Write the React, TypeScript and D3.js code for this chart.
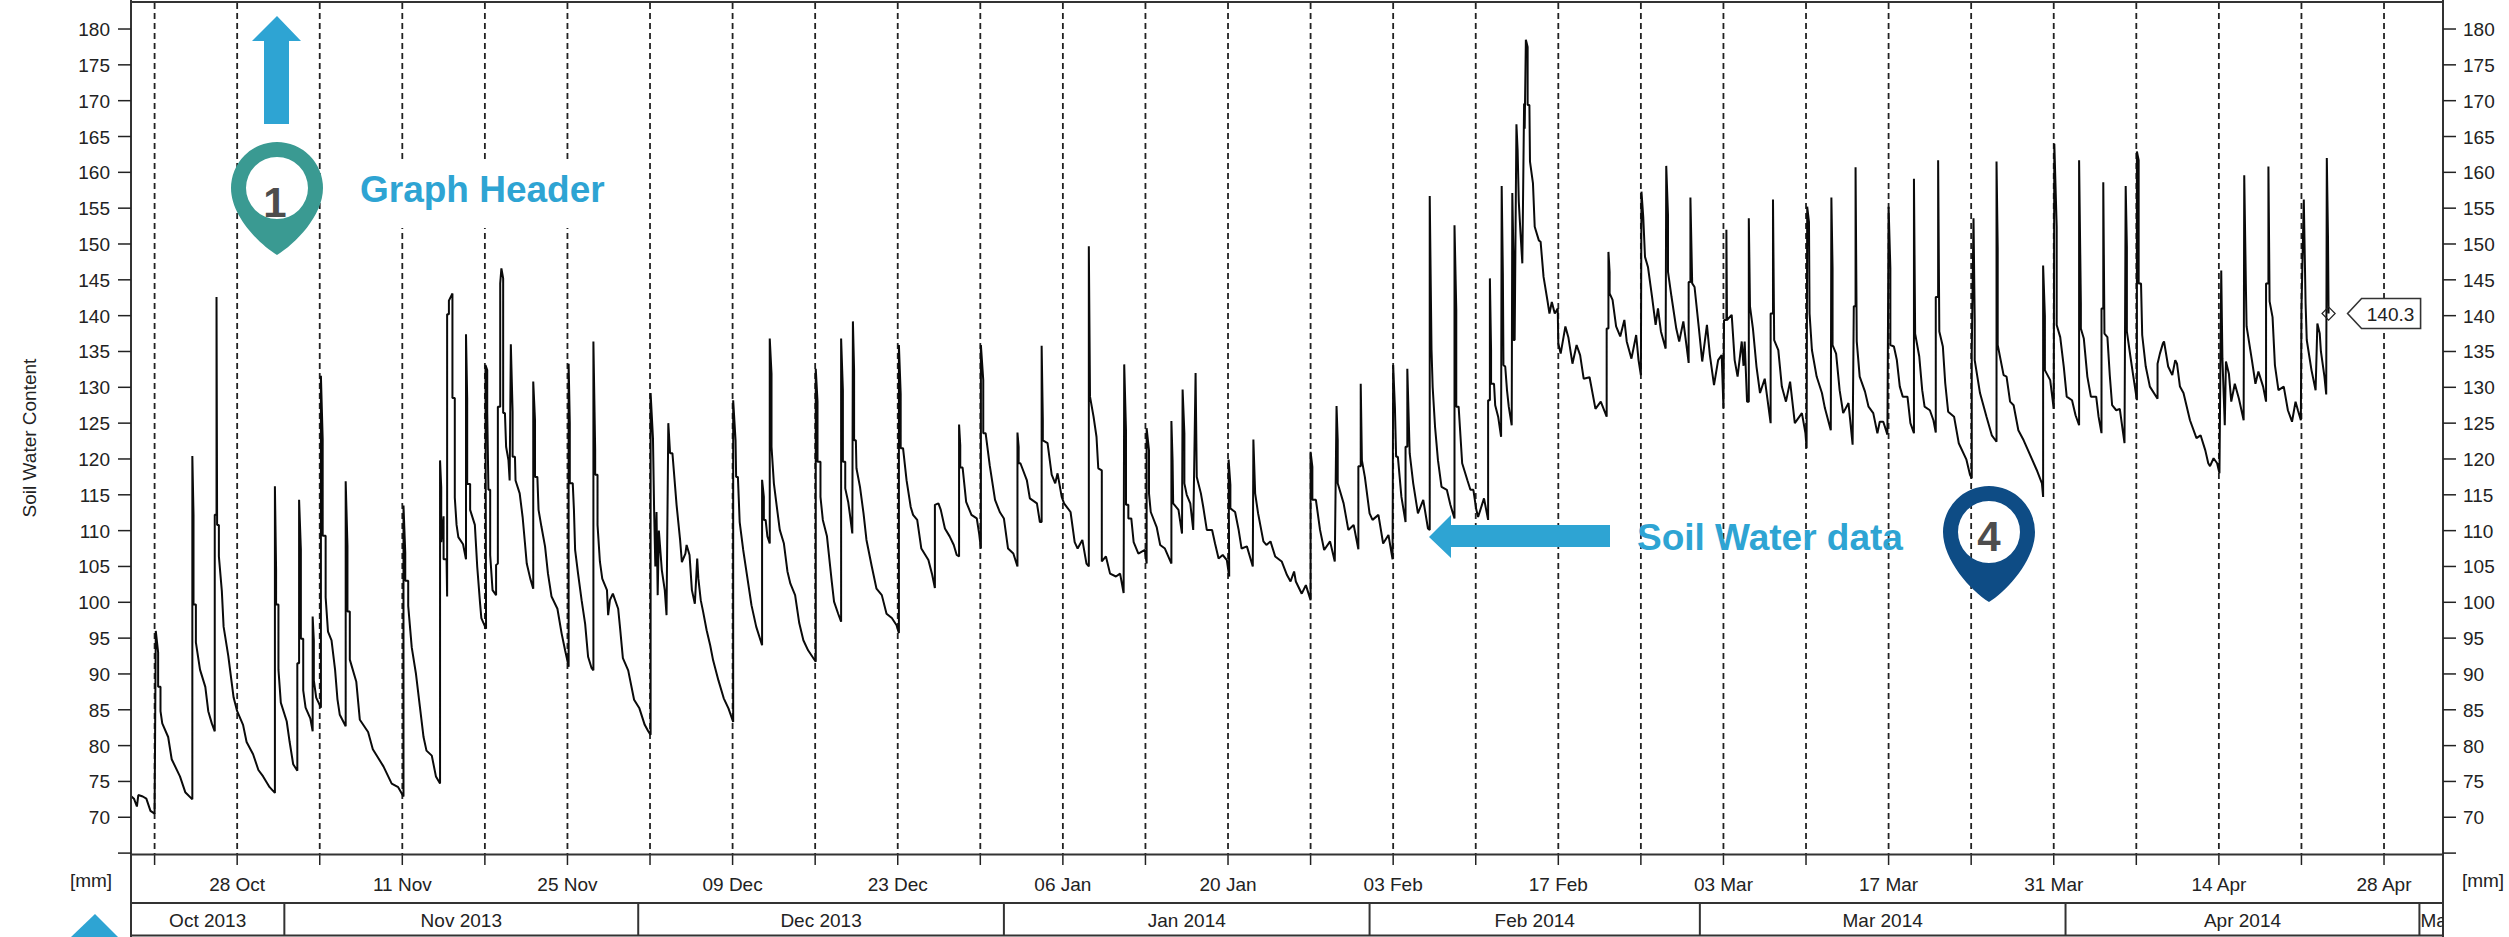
import { useEffect, useRef } from 'react';
import * as d3 from 'd3';

type Reading = [number, number]; // [days since 21 Oct 2013, soil water in mm]

const oct2013: Reading[] = [
  [-2.03, 73], [-1.75, 72.6], [-1.5, 71.5], [-1.38, 73.1], [-1, 72.9], [-0.7, 72.6], [-0.35, 70.9], [0, 70.5],
  [0.1, 96], [0.3, 93], [0.3, 88.2], [0.5, 88.2], [0.5, 84.8], [0.65, 83.1], [1.15, 81.2], [1.45, 78.1], [2.15, 75.7], [2.6, 73.5], [3.2, 72.5],
  [3.2, 120.4], [3.3, 112.2], [3.3, 99.7], [3.5, 99.7], [3.5, 94.4], [3.85, 90.6], [4.3, 88.2], [4.55, 84.8], [4.85, 83.1], [5.1, 82],
  [5.1, 112.2], [5.25, 112.2], [5.25, 142.6], [5.3, 110.8], [5.45, 110.8], [5.45, 106.4], [5.7, 101.6], [5.85, 96.6], [6.25, 92.5], [6.7, 86.7],
  [7, 84.8], [7.5, 82.9], [7.8, 80.5], [8.35, 78.8], [8.8, 76.6], [9.2, 75.7], [9.75, 74.2], [10.2, 73.4],
  [10.2, 116.2], [10.3, 104.5], [10.3, 99.7], [10.5, 99.7], [10.5, 90.6], [10.7, 86],
];

const nov2013: Reading[] = [
  [11.2, 83.4], [11.45, 80.5], [11.75, 77.4], [12.1, 76.5], [12.1, 91.5], [12.25, 91.5], [12.25, 114.3], [12.4, 107.4], [12.4, 94.9], [12.6, 94.9], [12.6, 87.7], [12.8, 85.3], [13.2, 83.8], [13.4, 82],
  [13.4, 98], [13.5, 94.7], [13.5, 89.1], [13.7, 86.7], [14.1, 85.3],
  [14.1, 131.6], [14.25, 122.8], [14.25, 109.3], [14.5, 109.3], [14.5, 100.7], [14.7, 95.9], [15, 94.7], [15.3, 90.6], [15.5, 86.5], [15.7, 84.3], [16.2, 82.7],
  [16.2, 116.9], [16.35, 107.9], [16.35, 98.7], [16.55, 98.7], [16.55, 92], [17.1, 88.9], [17.4, 83.6], [18.1, 81.9], [18.5, 79.5], [19.4, 77.1], [20.1, 74.7], [20.65, 74.2], [21.1, 72.9],
  [21.1, 113.5], [21.25, 106.9], [21.25, 103], [21.5, 103], [21.5, 99.5], [21.8, 93.7], [22.15, 90.1], [22.5, 85.3], [22.8, 81.2], [23.05, 79.3], [23.5, 78.6], [23.85, 75.7], [24.2, 74.7],
  [24.2, 119.8], [24.3, 116], [24.3, 108.4], [24.5, 112], [24.5, 106], [24.75, 106], [24.8, 100.8],
  [24.8, 140.2], [24.95, 140.2], [24.95, 142.1], [25.25, 143.1], [25.25, 128.5], [25.45, 128.5], [25.45, 114.6], [25.6, 110.8], [25.75, 109.1], [26.15, 108.1], [26.4, 106],
  [26.4, 137.4], [26.5, 128.5], [26.5, 116.5], [26.75, 116.5], [26.75, 112.9], [27.15, 110.8], [27.35, 105], [27.6, 99.7], [27.7, 97.8], [28.1, 96.3],
  [28.05, 133.1], [28.2, 132.4], [28.2, 126.6], [28.3, 115.7], [28.45, 115.7], [28.45, 106.6], [28.65, 101.7], [28.95, 101], [28.95, 105.2], [29.1, 105.4], [29.1, 127.3], [29.3, 127.3], [29.3, 144.5], [29.4, 146.6], [29.55, 145.2], [29.55, 126.4], [29.7, 126.4], [29.8, 121.7], [30, 119.8], [30.1, 117],
  [30.2, 136], [30.35, 126.6], [30.35, 120.3], [30.55, 120.3], [30.6, 117], [30.95, 115.2], [31.2, 111.9], [31.4, 108.2], [31.55, 105.4], [31.85, 103.3], [32.1, 101.9],
  [32.1, 130.8], [32.25, 125.4], [32.25, 117.5], [32.45, 117.5], [32.55, 112.9], [32.8, 110.5], [33.1, 107.8], [33.35, 104], [33.65, 100.8], [34.15, 99.1], [34.5, 95.7], [34.8, 93.3], [34.95, 92.2], [35.1, 91],
  [35.1, 133.3], [35.2, 125], [35.2, 116.6], [35.45, 116.6], [35.55, 112.9], [35.65, 107.3], [35.9, 104], [36.2, 100.3], [36.5, 97], [36.75, 92.4], [37.05, 90.8], [37.2, 90.5],
  [37.2, 136.4], [37.35, 121.2], [37.35, 117.8], [37.55, 117.8], [37.55, 110.8], [37.75, 105.7], [37.95, 103.3], [38.35, 101.7], [38.45, 98.2], [38.6, 100.3], [38.85, 101.2], [39.3, 99.1], [39.45, 96.6], [39.7, 92.2], [40.15, 90.5], [40.65, 86.4],
];

const dec2013: Reading[] = [
  [41.1, 85.2], [41.55, 82.9], [41.85, 82], [42.05, 81.5],
  [42.05, 129.2], [42.25, 122.9], [42.35, 112.6], [42.45, 105], [42.55, 112.6], [42.65, 101], [42.75, 110], [42.85, 107.8], [43, 104.5], [43.25, 101.7], [43.4, 98.2],
  [43.55, 125], [43.7, 120.8], [43.9, 120.8], [44.25, 113.6], [44.55, 108.7], [44.7, 105.6], [45, 106.8], [45.1, 108], [45.35, 106.6], [45.55, 101.7], [45.8, 99.8], [46, 106.1], [46.1, 103.3], [46.3, 100.3], [46.5, 98.7], [46.8, 96.1], [47.1, 94], [47.35, 91.9], [47.8, 89.1], [48.25, 86.6], [48.65, 85.2], [49.05, 83.3],
  [49.05, 128.2], [49.25, 122.6], [49.3, 117.5], [49.45, 117.5], [49.6, 111.2], [49.9, 107.3], [50.2, 104], [50.6, 99.6], [51, 96.6], [51.5, 94],
  [51.5, 117.1], [51.65, 114.7], [51.65, 111.5], [51.8, 111.5], [51.95, 109.2], [52.15, 108.2], [52.15, 136.8], [52.3, 131.9], [52.3, 121.7], [52.5, 116.6], [52.75, 113.3], [53, 110.1], [53.35, 108.2], [53.65, 104.3], [53.9, 102.6], [54.3, 101], [54.65, 97.1], [55, 94.7], [55.4, 93.3], [56.05, 91.7],
  [56.05, 132.6], [56.2, 128], [56.2, 119.6], [56.45, 119.6], [56.45, 114.7], [56.65, 111.5], [57, 109.2], [57.4, 103], [57.6, 100.1], [57.95, 98.4], [58.2, 97.3],
  [58.2, 136.8], [58.35, 129.6], [58.35, 119.6], [58.55, 119.6], [58.55, 115.9], [58.8, 114], [58.95, 112.2], [59.15, 109.6],
  [59.2, 139.2], [59.3, 132.4], [59.3, 122.6], [59.45, 122.6], [59.5, 118.7], [59.8, 116.1], [60.1, 112.4], [60.35, 108.7], [60.8, 105], [61.2, 101.9], [61.65, 101], [62.05, 98.4], [62.5, 97.8], [62.9, 96.8], [63.1, 95.7],
  [63.1, 135.9], [63.25, 129.1], [63.25, 121.5], [63.45, 121.5], [63.75, 117], [64.1, 113.3], [64.3, 112.2], [64.65, 111.5], [65, 107.5], [65.6, 105.9], [65.9, 104], [66.15, 102],
  [66.15, 113.6], [66.45, 113.8], [66.65, 112.9], [67, 110.3], [67.4, 109.2], [67.75, 108], [68, 106.6], [68.2, 106.4],
  [68.2, 124.8], [68.3, 121.9], [68.3, 118.8], [68.5, 118.8], [68.8, 114], [69.25, 112.2], [69.7, 111.7], [69.9, 109.6], [70.05, 107.5],
  [70.05, 135.9], [70.25, 131], [70.25, 123.6], [70.45, 123.6], [70.8, 119.1], [71.25, 114.3], [71.65, 112.6],
];

const jan2014: Reading[] = [
  [72, 111.7], [72.35, 107.5], [72.8, 106.8], [73.15, 105],
  [73.15, 123.7], [73.25, 121.7], [73.25, 119.4], [73.4, 119.4], [73.95, 117], [74.2, 114.5], [74.8, 113.8], [75.05, 111.2], [75.2, 111.2],
  [75.2, 135.8], [75.3, 125.4], [75.3, 122.6], [75.7, 122.2], [76.05, 117.8], [76.35, 116.6], [76.55, 118], [76.7, 116.6], [76.9, 114.7], [77.1, 113.8], [77.65, 112.6], [78, 108.4], [78.25, 107.5], [78.65, 108.7], [79, 105.4], [79.2, 105],
  [79.2, 149.7], [79.3, 128.7], [79.6, 125.9], [79.85, 123.1], [80, 118.7], [80.3, 118.4], [80.3, 105.7], [80.65, 106.4], [81, 104], [81.5, 103.6], [81.85, 104], [82.15, 101.3],
  [82.2, 133.2], [82.35, 124], [82.35, 113.6], [82.55, 113.6], [82.55, 111.7], [82.8, 111.7], [83, 108.4], [83.4, 106.8], [83.95, 107.3], [84.1, 105.4],
  [84.1, 124.3], [84.3, 121.2], [84.3, 115.2], [84.45, 112.6], [84.95, 110.5], [85.25, 108], [85.65, 107.5], [86.2, 105.4],
  [86.2, 125.3], [86.3, 119.8], [86.35, 113.8], [86.8, 112.9], [87.1, 109.6],
  [87.15, 129.7], [87.3, 123.6], [87.3, 116.6], [87.5, 115], [87.8, 113.8], [88.05, 110.1], [88.15, 120.8], [88.25, 132], [88.35, 117.5], [88.7, 115.2], [88.9, 113.3], [89.2, 110.1], [89.65, 110.1], [89.9, 108.2], [90.2, 106.1], [90.55, 106.6], [90.9, 105.9], [91.1, 103.6],
  [91.05, 119.9], [91.2, 116.4], [91.2, 113.1], [91.6, 112.6], [91.9, 110.1], [92.15, 107.5], [92.6, 107.8], [93.1, 105],
  [93.15, 122.7], [93.3, 115.2], [93.55, 112.4], [94, 108.5], [94.25, 108], [94.6, 108.5], [95, 106.4], [95.55, 105.7], [96, 103.8], [96.3, 102.9], [96.6, 104.3], [96.75, 102.9], [97.25, 101.2], [97.6, 102.4], [98, 100.3],
  [98, 121], [98.15, 118.9], [98.15, 114.3], [98.45, 114.3], [98.8, 110.1], [99.15, 107.3], [99.65, 108.5], [100.05, 105.7],
  [100.2, 127.4], [100.3, 122.6], [100.3, 116.6], [100.8, 113.8], [101.2, 110.1], [101.65, 110.8], [102.05, 107.4],
  [102.05, 119], [102.25, 119], [102.25, 130.5], [102.35, 119.8], [102.6, 117.5],
];

const feb2014: Reading[] = [
  [103, 112.4], [103.25, 111.5], [103.75, 112.2], [104.15, 108.2], [104.6, 109.4], [104.95, 106],
  [105, 133.1], [105.15, 127.1], [105.25, 120.3], [105.4, 120.3], [105.7, 114.7], [106.05, 111.2], [106.05, 121.7], [106.2, 121.7], [106.2, 132.6], [106.4, 120.8], [106.7, 116.6], [107.1, 112.4], [107.55, 114.3], [107.95, 110.3], [108.1, 110.1],
  [108.1, 156.7], [108.25, 135.3], [108.35, 130], [108.55, 124.5], [108.8, 119.8], [109.1, 116.1], [109.55, 115.7], [109.85, 113.6], [110.2, 111.7],
  [110.2, 152.6], [110.35, 140.8], [110.35, 127.3], [110.55, 127.3], [110.85, 119.4], [111.3, 117], [111.55, 115.7], [111.8, 115.7], [112.05, 112.9], [112.2, 111.9], [112.7, 114.5], [113.05, 111.5],
  [113.05, 128.2], [113.2, 128.2], [113.2, 145.2], [113.3, 135.2], [113.3, 130.5], [113.55, 130.5], [113.65, 127.5], [113.9, 125.9], [114.15, 123.1],
  [114.2, 158.1], [114.3, 145.9], [114.35, 133.1], [114.5, 132.9], [114.65, 129.6], [114.8, 127.3], [115.05, 124.7],
  [115.1, 157.1], [115.2, 148.2], [115.2, 136.6], [115.3, 136.6], [115.45, 166.7], [115.55, 163.1], [115.65, 155.9], [115.8, 151.4], [115.95, 147.3], [116.1, 169.6], [116.15, 166.1], [116.25, 178.5], [116.4, 177.5], [116.4, 169.4], [116.55, 169.4], [116.6, 161.5], [116.85, 158.5], [117, 152.4], [117.35, 150.5], [117.5, 150.3], [117.75, 145.4], [118.1, 141.9], [118.25, 140.3], [118.45, 141.9], [118.7, 140.3], [118.95, 141], [119, 136.1], [119.2, 134.7], [119.6, 138.5], [119.85, 137], [120.2, 133.3], [120.55, 135.9], [120.85, 134.5], [121.15, 131.2], [121.65, 131.4], [122.15, 127], [122.6, 128], [123.1, 125.9],
  [123.1, 138.2], [123.25, 138.2], [123.25, 148.9], [123.35, 146.1], [123.35, 143.1], [123.6, 142.2], [123.9, 138.5], [124.25, 137.1], [124.6, 139.4], [124.8, 136.4], [125.2, 134], [125.6, 137.3], [125.8, 133.8], [126, 131.7],
  [126.05, 157.3], [126.2, 153.8], [126.35, 148.2], [126.6, 146.8], [126.95, 142.6], [127.25, 138.7], [127.45, 141], [127.7, 137.8], [128.1, 135.4],
  [128.15, 160.9], [128.3, 154], [128.3, 146.1], [128.6, 142.6], [129, 138.2], [129.25, 136.4], [129.6, 139.2], [129.9, 135.4], [130.05, 133.4],
  [130.05, 144.7], [130.2, 144.7], [130.2, 156.5], [130.35, 144.5], [130.55, 144], [130.9, 138.5],
];

const mar2014: Reading[] = [
  [131.2, 133.6], [131.6, 138.7], [131.85, 134.5], [132.2, 130.3], [132.55, 133.8], [132.85, 134.5], [132.9, 132], [133, 127.1], [133.05, 139.4], [133.25, 139.4], [133.25, 152], [133.3, 139.4],
  [133.7, 140.1], [133.95, 133.8], [134.2, 131.5], [134.55, 136.4], [134.7, 133], [134.8, 136.4], [135, 128], [135.15, 128],
  [135.15, 153.6], [135.25, 141.3], [135.5, 138.2], [135.8, 132.9], [136.1, 129.2], [136.5, 131.2], [137, 125],
  [137, 140.3], [137.2, 140.3], [137.2, 156.2], [137.3, 136.6], [137.65, 135.2], [137.95, 130.1], [138.3, 128], [138.65, 130.8], [139.05, 125], [139.65, 126.4], [139.95, 123.6], [140.05, 121.5],
  [140.1, 155.2], [140.25, 153.1], [140.3, 140.3], [140.5, 135.2], [140.9, 131.5], [141.35, 129.2], [141.6, 127.1], [142.1, 124],
  [142.15, 156.5], [142.25, 146.6], [142.25, 135.9], [142.55, 134.7], [142.85, 129.6], [143.15, 126.4], [143.6, 127.8], [143.95, 122],
  [144.05, 141.3], [144.2, 141.3], [144.2, 160.7], [144.3, 136.4], [144.55, 131.5], [145, 129.4], [145.3, 127.3], [145.7, 126.4], [146.05, 123.6], [146.25, 125.2], [146.55, 125.2], [146.9, 123.4],
  [147, 155.2], [147.15, 146.6], [147.15, 135.9], [147.45, 135.7], [147.7, 133.8], [147.95, 130.1], [148.2, 128.7], [148.6, 128.7], [148.85, 125], [149.15, 123.6],
  [149.15, 159.1], [149.25, 137.5], [149.6, 134.3], [149.85, 129.6], [150.05, 127.3], [150.5, 126.8], [150.8, 125.4], [151, 123.7],
  [151, 142.6], [151.2, 142.6], [151.2, 161.7], [151.3, 137.8], [151.6, 135.7], [151.8, 130.6], [152.05, 126.6], [152.55, 125.9], [152.95, 122.2], [153.6, 119.9], [153.9, 117.8], [154.05, 117.3],
  [154.05, 134.7], [154.2, 153.6], [154.3, 139.4], [154.3, 133.8], [154.75, 129.2], [155.3, 125.9], [155.75, 123.3], [156.15, 122.4],
  [156.15, 161.5], [156.25, 149.4], [156.25, 135.9], [156.75, 131.7], [157, 131.5], [157.3, 128], [157.6, 127.5], [158, 124], [158.45, 122.6], [159.55, 118.5], [160, 116.6], [160.1, 114.7],
  [160.1, 147], [160.25, 139.9], [160.25, 132.4], [160.7, 131], [161, 127],
  [161.05, 164], [161.25, 152.4], [161.25, 138.7], [161.55, 137], [161.85, 132.9],
];

const apr2014: Reading[] = [
  [162.1, 128.7], [162.55, 128.2], [162.85, 126.1], [163.15, 124.7],
  [163.15, 161.7], [163.3, 141.7], [163.3, 138.2], [163.55, 136.8], [163.85, 131.5], [164.15, 128.7], [164.6, 128.7], [164.8, 125.9], [165.05, 123.6],
  [165.05, 141], [165.2, 141], [165.2, 158.6], [165.3, 137.5], [165.55, 137], [165.75, 131.7], [165.95, 127.5], [166.3, 126.8], [166.6, 127], [166.85, 124], [167, 122.2],
  [167.1, 158.1], [167.2, 149.6], [167.2, 137.8], [167.5, 134.3], [167.75, 131.5], [168.05, 128.2],
  [168.05, 162.9], [168.2, 161.7], [168.2, 144.5], [168.4, 144.5], [168.5, 137.3], [168.8, 132.9], [169.15, 130.1], [169.8, 128.4],
  [169.8, 133.3], [170, 134.7], [170.25, 136.1], [170.35, 136.4], [170.7, 132.9], [171.05, 131.7], [171.3, 133.8], [171.45, 133.3], [171.7, 130.1], [172, 129.2], [172.55, 125.4], [173.1, 122.9], [173.45, 123.3], [173.85, 121.2], [174.1, 119.4], [174.25, 119], [174.55, 120.1], [174.85, 119.4], [175.05, 118],
  [175.2, 146.3], [175.3, 134], [175.5, 124.7], [175.6, 133.6], [175.85, 131.9], [176.05, 128], [176.35, 130.5], [176.7, 128.4], [177.1, 125.4],
  [177.15, 159.6], [177.3, 143.1], [177.35, 138.5], [177.8, 133.8], [178.1, 130.5], [178.35, 132.2], [178.75, 130.1], [179, 128],
  [179, 144.5], [179.2, 144.5], [179.2, 160.8], [179.3, 142], [179.55, 139.8], [179.75, 133.1], [180.05, 129.6], [180.5, 130.1], [180.85, 126.8], [181.2, 125.2], [181.5, 128], [181.7, 126.8], [181.95, 125.4],
  [182, 140.8], [182.2, 156.2], [182.35, 141.7], [182.45, 136.6], [182.85, 132.4], [183.2, 129.6], [183.35, 138.9], [183.55, 137.5], [183.65, 135], [183.95, 131.5], [184.1, 129],
  [184.15, 162], [184.25, 151], [184.3, 140.3],
];

const allReadings = [...oct2013, ...nov2013, ...dec2013, ...jan2014, ...feb2014, ...mar2014, ...apr2014];

const yTicks = d3.range(65, 185, 5);
const monthLabels = ['Oct 2013', 'Nov 2013', 'Dec 2013', 'Jan 2014', 'Feb 2014', 'Mar 2014', 'Apr 2014', 'May 2014'];
const lastValue = 140.3;

const font = '"Liberation Sans", Arial, sans-serif';
const blue = '#2ea4d3';
const dark = '#222';

const width = 2509;
const height = 937;

const dayOne = Date.UTC(2013, 9, 21);
const toDate = (d: number) => new Date(dayOne + d * 86400000);

// teardrop marker with a hole in it, so the grid shows through
const pinPath = (cx: number, cy: number, tail: number) =>
  `M${cx},${cy + tail} C${cx - 18},${cy + tail - 11} ${cx - 46},${cy + 28} ${cx - 46},${cy}
   A46,46 0 1 1 ${cx + 46},${cy} C${cx + 46},${cy + 28} ${cx + 18},${cy + tail - 11} ${cx},${cy + tail} Z
   M${cx - 31},${cy} A31,31 0 1 0 ${cx + 31},${cy} A31,31 0 1 0 ${cx - 31},${cy} Z`;

const SoilWaterChart: React.FC = () => {
  const svgRef = useRef<SVGSVGElement | null>(null);

  useEffect(() => {
    if (!svgRef.current) return;
    const svg = d3.select(svgRef.current);
    svg.selectAll('*').remove();

    const left = 131;
    const right = 2443;
    const axisY = 854.5;
    const bandTop = 903;
    const bandBottom = 935.5;

    const x = d3
      .scaleUtc()
      .domain([new Date(Date.UTC(2013, 9, 19)), new Date(Date.UTC(2014, 4, 3))])
      .range([left, right]);
    const y = d3.scaleLinear().domain([65, 183.7]).range([853.1, 2.5]);

    const weeks = d3.utcMonday.range(new Date(Date.UTC(2013, 9, 21)), new Date(Date.UTC(2014, 4, 3)));
    const months = d3.utcMonth.range(new Date(Date.UTC(2013, 10, 1)), new Date(Date.UTC(2014, 6, 1)));

    const addText = (tx: number, ty: number, label: string, anchor = 'middle', size = 19) =>
      svg
        .append('text')
        .attr('x', tx)
        .attr('y', ty)
        .attr('text-anchor', anchor)
        .style('font-family', font)
        .style('font-size', `${size}px`)
        .style('fill', dark)
        .text(label);

    // weekly grid
    weeks.forEach((w) => {
      svg
        .append('line')
        .attr('x1', x(w))
        .attr('x2', x(w))
        .attr('y1', 3)
        .attr('y2', axisY)
        .attr('stroke', '#222')
        .attr('stroke-width', 1.8)
        .attr('stroke-dasharray', '6 4');
      svg
        .append('line')
        .attr('x1', x(w))
        .attr('x2', x(w))
        .attr('y1', axisY)
        .attr('y2', 865)
        .attr('stroke', dark)
        .attr('stroke-width', 1.5);
    });

    // soil water line
    const line = d3
      .line<Reading>()
      .x((d) => x(toDate(d[0])))
      .y((d) => y(d[1]));
    svg
      .append('path')
      .attr('d', line(allReadings))
      .attr('fill', 'none')
      .attr('stroke', '#0a0a0a')
      .attr('stroke-width', 2)
      .attr('stroke-linejoin', 'bevel');

    // frame
    const frame = [
      [left, 0, left, height],
      [right, 0, right, height],
      [left, 2, right, 2],
      [left, axisY, right, axisY],
      [left, bandTop, right, bandTop],
      [left, bandBottom, right, bandBottom],
    ];
    frame.forEach(([x1, y1, x2, y2]) => {
      svg
        .append('line')
        .attr('x1', x1)
        .attr('y1', y1)
        .attr('x2', x2)
        .attr('y2', y2)
        .attr('stroke', '#333')
        .attr('stroke-width', 2);
    });

    // y axes
    yTicks.forEach((t) => {
      const ty = y(t);
      svg.append('line').attr('x1', 118).attr('x2', left).attr('y1', ty).attr('y2', ty).attr('stroke', dark).attr('stroke-width', 1.5);
      svg.append('line').attr('x1', right).attr('x2', 2456).attr('y1', ty).attr('y2', ty).attr('stroke', dark).attr('stroke-width', 1.5);
      if (t >= 70) {
        addText(110, ty + 7, String(t), 'end');
        addText(2463, ty + 7, String(t), 'start');
      }
    });

    addText(0, 0, 'Soil Water Content').attr('transform', 'translate(36,438) rotate(-90)');
    addText(91, 887, '[mm]');
    addText(2483, 887, '[mm]');

    // date labels, every second week
    weeks
      .filter((_, i) => i % 2 === 1)
      .forEach((w) => addText(x(w), 891, d3.utcFormat('%d %b')(w)));

    // month band
    svg
      .append('clipPath')
      .attr('id', 'band-clip')
      .append('rect')
      .attr('x', left)
      .attr('y', bandTop)
      .attr('width', right - left)
      .attr('height', bandBottom - bandTop);
    months.forEach((m, i) => {
      const start = i === 0 ? left : x(months[i - 1]);
      const end = x(m);
      if (i < months.length - 1) {
        svg.append('line').attr('x1', end).attr('x2', end).attr('y1', bandTop).attr('y2', bandBottom).attr('stroke', '#333').attr('stroke-width', 2);
        addText((start + end) / 2, 927, monthLabels[i]);
      } else {
        addText(start + 1, 927, monthLabels[i], 'start').attr('clip-path', 'url(#band-clip)');
      }
    });

    // last value marker
    const lastDate = toDate(allReadings[allReadings.length - 1][0]);
    const mx = x(lastDate);
    const my = y(lastValue);
    svg
      .append('path')
      .attr('d', d3.symbol(d3.symbolDiamond2, 110)() as string)
      .attr('transform', `translate(${mx},${my})`)
      .attr('fill', 'none')
      .attr('stroke', dark)
      .attr('stroke-width', 1.2);
    svg
      .append('path')
      .attr('d', `M${mx + 19},${my} L${mx + 33},${my - 15} L${mx + 92},${my - 15} L${mx + 92},${my + 15} L${mx + 33},${my + 15} Z`)
      .attr('fill', '#fff')
      .attr('stroke', '#333')
      .attr('stroke-width', 1.6);
    addText(mx + 62, my + 7, String(lastValue), 'middle', 19);

    // callouts laid over the chart
    svg.append('rect').attr('x', 350).attr('y', 162).attr('width', 265).attr('height', 66).attr('fill', '#fff');
    svg.append('path').attr('d', 'M277,16 L301,41 L289,41 L289,124 L264,124 L264,41 L252,41 Z').attr('fill', blue);
    svg.append('path').attr('d', pinPath(277, 188, 67)).attr('fill', '#3a9a92').attr('fill-rule', 'evenodd');
    addText(275, 217, '1', 'middle', 42).style('font-weight', 'bold').style('fill', '#4d4d4d');
    addText(360, 202, 'Graph Header', 'start', 37).style('font-weight', 'bold').style('fill', blue);

    svg.append('path').attr('d', 'M1429,537 L1451,515 L1451,525 L1610,525 L1610,547 L1451,547 L1451,558 Z').attr('fill', blue);
    addText(1637, 550, 'Soil Water data', 'start', 37).style('font-weight', 'bold').style('fill', blue);
    svg.append('path').attr('d', pinPath(1989, 532, 70)).attr('fill', '#0e4c85').attr('fill-rule', 'evenodd');
    addText(1989, 551, '4', 'middle', 42).style('font-weight', 'bold').style('fill', '#4d4d4d');

    svg.append('path').attr('d', 'M95,914 L118,937 L71,937 Z').attr('fill', blue);
  }, []);

  return (
    <svg
      ref={svgRef}
      width={width}
      height={height}
      style={{ position: 'absolute', left: 0, top: 0, display: 'block', background: '#fff' }}
    />
  );
};

export default function App() {
  return <SoilWaterChart />;
}
